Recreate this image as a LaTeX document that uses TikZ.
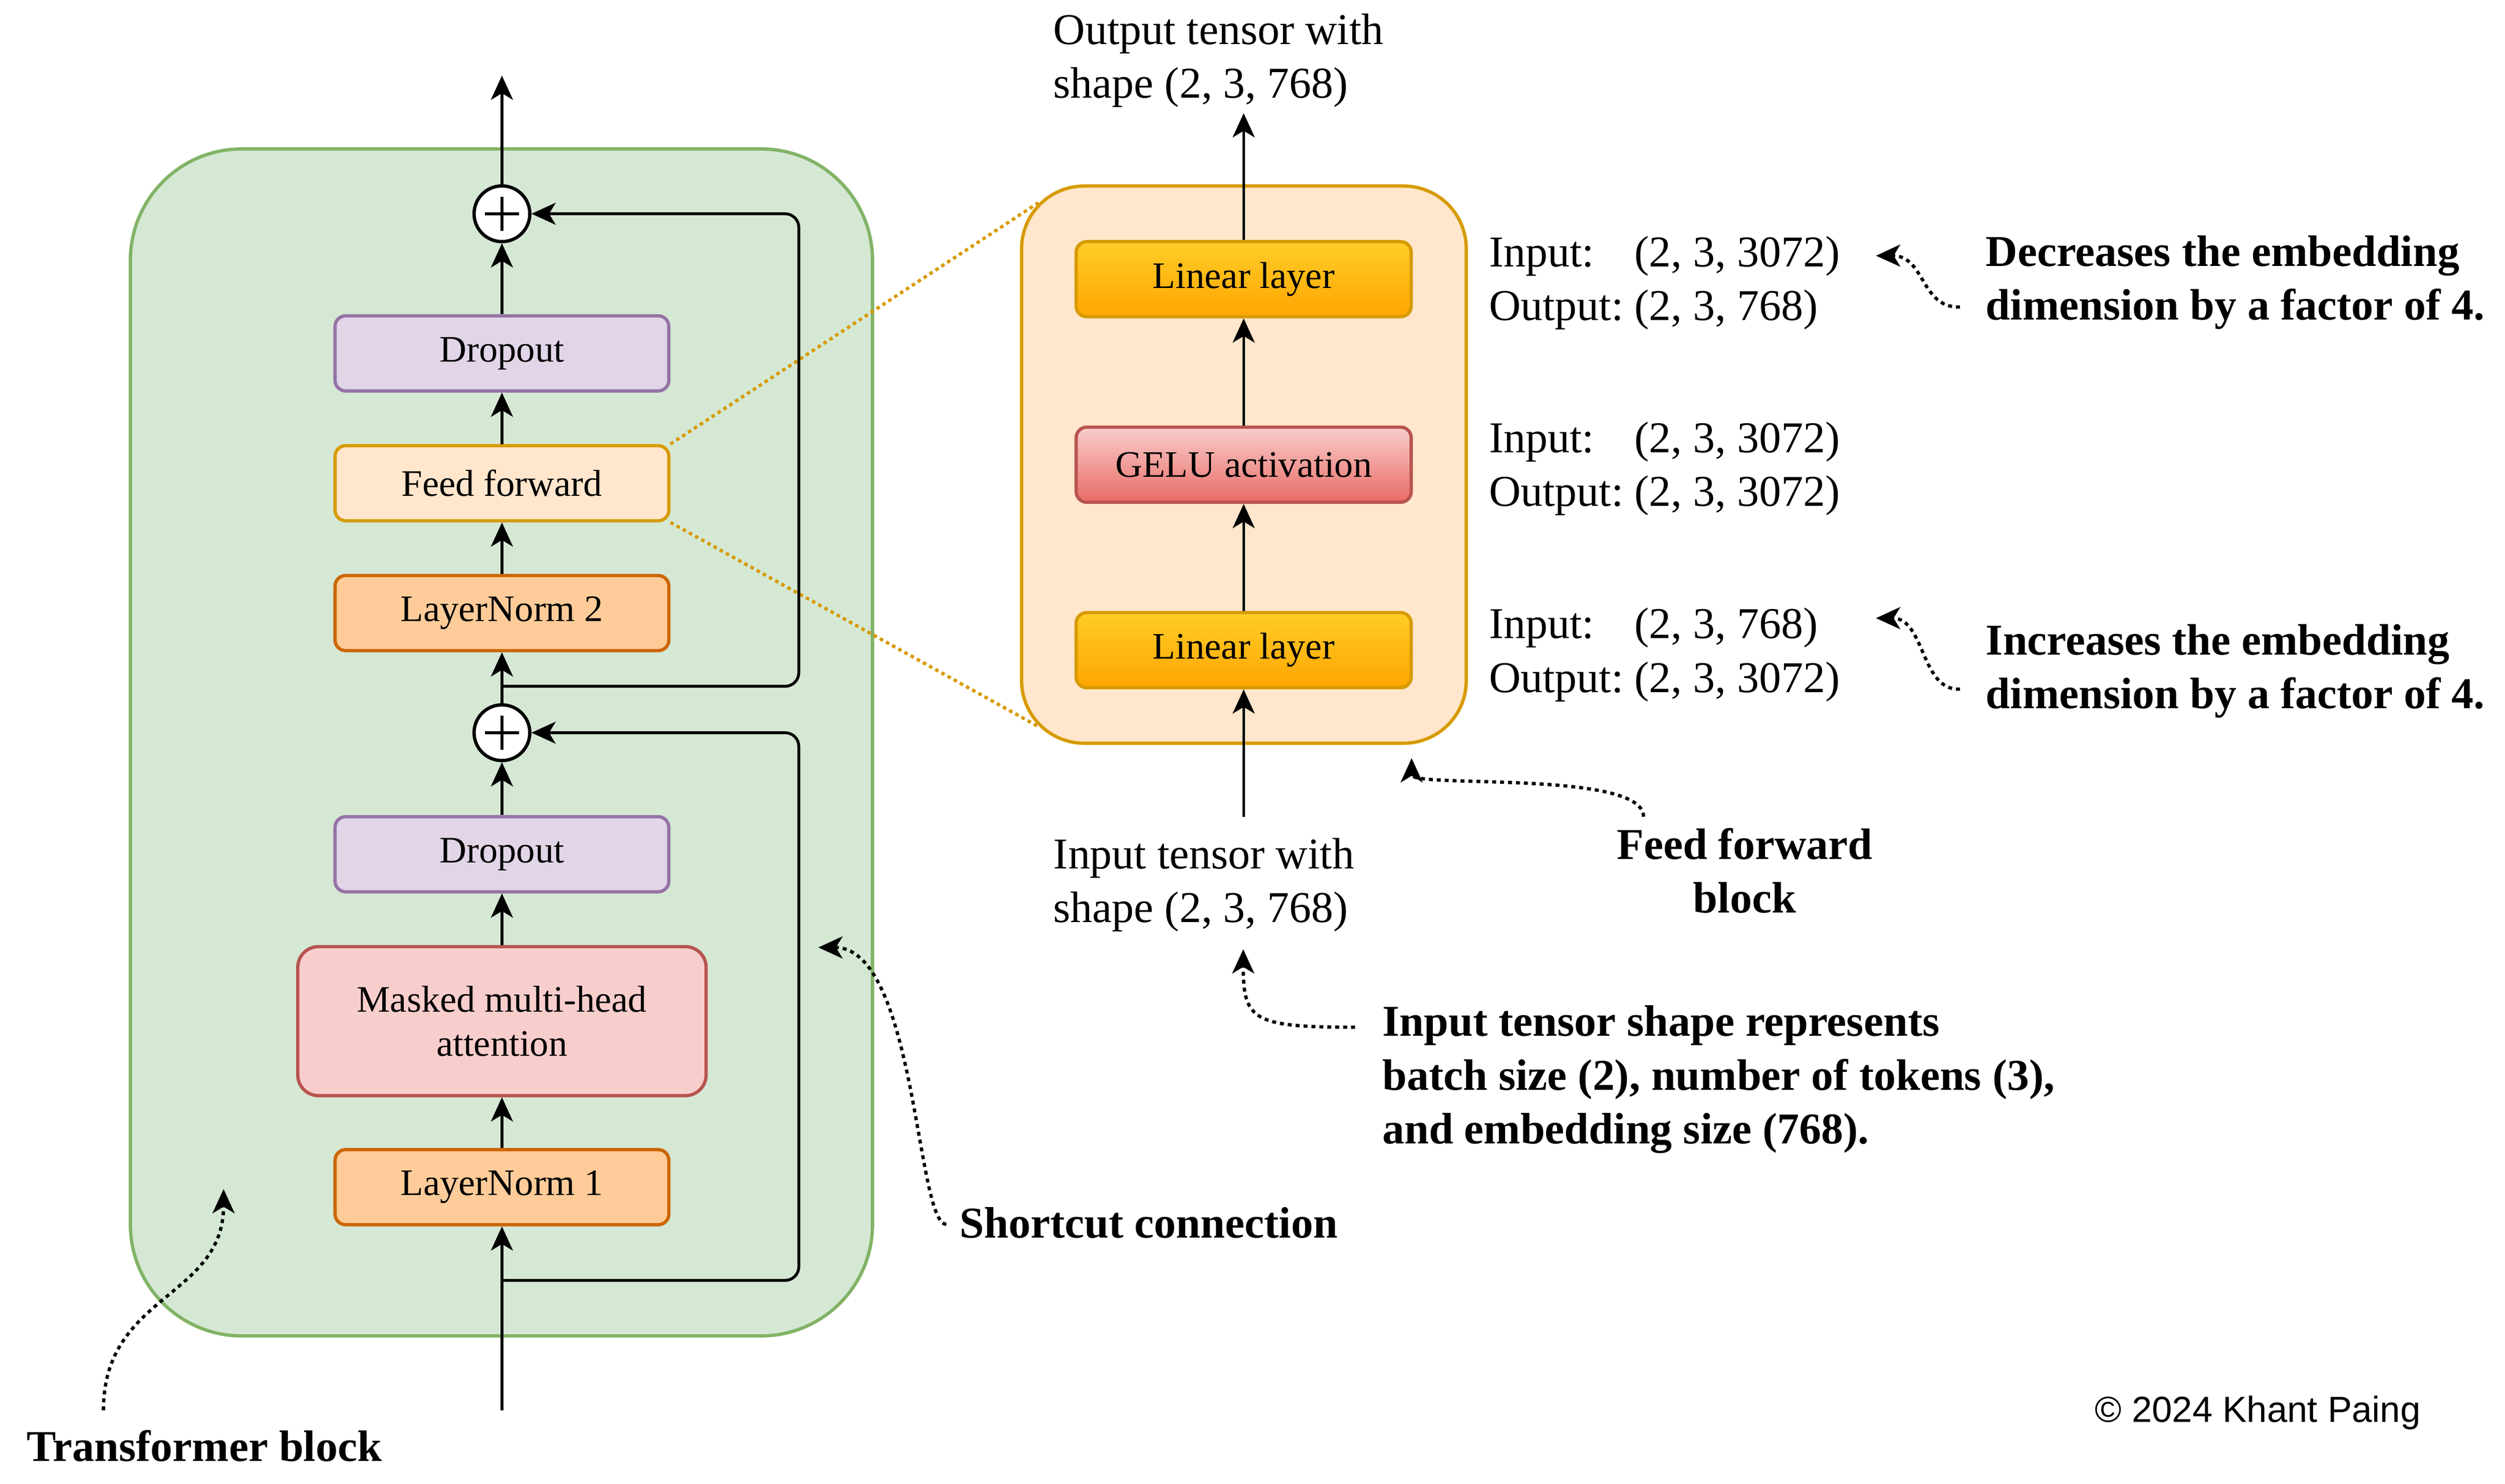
\documentclass[tikz,border=0pt]{standalone}
\usepackage{fontspec}
\setmainfont{Liberation Serif}
\newfontfamily\copyfont{Liberation Sans}
\usepackage{xcolor}
\usetikzlibrary{shapes,positioning,calc,arrows.meta}

\definecolor{tbfill}{HTML}{D5E8D4}
\definecolor{tbline}{HTML}{82B366}
\definecolor{dropfill}{HTML}{E1D5E7}
\definecolor{dropline}{HTML}{9673A6}
\definecolor{fffill}{HTML}{FFE6CC}
\definecolor{ffline}{HTML}{D79B00}
\definecolor{lnfill}{HTML}{FFCC99}
\definecolor{lnline}{HTML}{CC6600}
\definecolor{mhafill}{HTML}{F8CECC}
\definecolor{mhaline}{HTML}{B85450}
\definecolor{lintop}{HTML}{FFCD28}
\definecolor{linbot}{HTML}{FFA500}
\definecolor{gelutop}{HTML}{F8CECC}
\definecolor{gelubot}{HTML}{EA6B66}

\begin{document}
\begin{tikzpicture}[
    box/.style={draw, rounded corners=0.17cm, line width=1.5pt, minimum width=5.33cm, minimum height=1.2cm, align=center, font=\fontsize{17}{20}\selectfont},
    adder/.style={circle, draw, fill=white, line width=1.5pt, minimum size=0.89cm, inner sep=0pt,
        path picture={\draw[line width=1.3pt] ([xshift=-0.27cm]path picture bounding box.center) -- ([xshift=0.27cm]path picture bounding box.center)
            ([yshift=-0.27cm]path picture bounding box.center) -- ([yshift=0.27cm]path picture bounding box.center);}},
    lin/.style={box, draw=ffline, top color=lintop, bottom color=linbot, minimum width=5.35cm},
    arr/.style={-{Stealth[length=11pt,width=10pt,inset=3pt]}, line width=1.3pt},
    dotarr/.style={arr, dash pattern=on 1.8pt off 1.8pt, line width=1.5pt},
    zoomline/.style={draw=ffline, dash pattern=on 1.6pt off 1.6pt, line width=1.5pt},
    note/.style={align=left, inner sep=0pt, font=\fontsize{20}{24.4}\selectfont},
    bnote/.style={note, font=\fontsize{20}{24.4}\selectfont\bfseries}
]
\useasboundingbox (0,0) rectangle (40,23.7037);

% transformer block
\node[draw=tbline, fill=tbfill, line width=1.5pt, rounded corners=1.78cm, minimum width=11.85cm, minimum height=18.96cm] (tblock) at (8.007,11.845) {};
\node[adder] (add2) at (8.015,20.289) {};
\node[box, fill=dropfill, draw=dropline] (drop2) at (8.015,18.059) {Dropout};
\node[box, fill=fffill, draw=ffline] (ff) at (8.015,15.985) {Feed forward};
\node[box, fill=lnfill, draw=lnline] (ln2) at (8.015,13.911) {LayerNorm 2};
\node[adder] (add1) at (8.015,12.0) {};
\node[box, fill=dropfill, draw=dropline] (drop1) at (8.015,10.059) {Dropout};
\node[box, fill=mhafill, draw=mhaline, minimum width=6.52cm, minimum height=2.38cm, rounded corners=0.33cm] (mha) at (8.015,7.393) {Masked multi-head\\attention};
\node[box, fill=lnfill, draw=lnline] (ln1) at (8.015,4.741) {LayerNorm 1};

\coordinate (tbin) at (8.015,1.178);
\coordinate (tbout) at (8.015,22.496);
\coordinate (sc1) at (8.015,3.252);
\coordinate (sc2) at (8.015,12.741);
\coordinate (rail) at (12.756,0);

% feed forward block
\node[draw=ffline, fill=fffill, line width=1.5pt, rounded corners=1cm, minimum width=7.1cm, minimum height=8.9cm] (ffb) at (19.863,16.282) {};
\draw[zoomline] (ff.north east) -- ([shift={(0.293,-0.293)}]ffb.north west);
\draw[zoomline] (ff.south east) -- ([shift={(0.293,0.293)}]ffb.south west);
\node[lin] (lin2) at (19.859,19.244) {Linear layer};
\node[box, draw=mhaline, top color=gelutop, bottom color=gelubot, minimum width=5.35cm] (gelu) at (19.859,16.281) {GELU activation};
\node[lin] (lin1) at (19.859,13.319) {Linear layer};
\coordinate (ffin) at (19.859,10.659);
\coordinate (ffout) at (19.859,21.896);

% main path
\draw[arr] (tbin) -- (ln1);
\draw[arr] (ln1) -- (mha);
\draw[arr] (mha) -- (drop1);
\draw[arr] (drop1) -- (add1);
\draw[arr] (add1) -- (ln2);
\draw[arr] (ln2) -- (ff);
\draw[arr] (ff) -- (drop2);
\draw[arr] (drop2) -- (add2);
\draw[arr] (add2) -- (tbout);
\draw[arr, rounded corners=0.22cm] (sc1) -- (sc1 -| rail) |- (add1);
\draw[arr, rounded corners=0.22cm] (sc2) -- (sc2 -| rail) |- (add2);

\draw[arr] (ffin) -- (lin1);
\draw[arr] (lin1) -- (gelu);
\draw[arr] (gelu) -- (lin2);
\draw[arr] (lin2) -- (ffout);

% labels (base = last line)
\node[note, anchor=base west] (outtxt) at (16.815,22.141) {Output tensor with\\shape (2, 3, 768)};
\node[note, anchor=base west] (intxt) at (16.815,8.970) {Input tensor with\\shape (2, 3, 768)};
\node[note, anchor=base west] (lin2io) at (23.770,19.444) {\begin{tabular}[t]{@{}l@{\hspace{0.25em}}l@{}}Input: & (2, 3, 3072)\\Output: & (2, 3, 768)\end{tabular}};
\node[note, anchor=base west] (geluio) at (23.770,16.474) {\begin{tabular}[t]{@{}l@{\hspace{0.25em}}l@{}}Input: & (2, 3, 3072)\\Output: & (2, 3, 3072)\end{tabular}};
\node[note, anchor=base west] (lin1io) at (23.770,13.504) {\begin{tabular}[t]{@{}l@{\hspace{0.25em}}l@{}}Input: & (2, 3, 768)\\Output: & (2, 3, 3072)\end{tabular}};

\node[bnote, anchor=base west] (dectxt) at (31.704,18.593) {Decreases the embedding\\dimension by a factor of 4.};
\node[bnote, anchor=base west] (inctxt) at (31.704,12.385) {Increases the embedding\\dimension by a factor of 4.};
\node[bnote, anchor=base west] (shapetxt) at (22.067,5.437) {Input tensor shape represents\\batch size (2), number of tokens (3),\\and embedding size (768).};
\node[bnote, anchor=base, align=center] (fftxt) at (27.859,9.126) {Feed forward\\block};
\node[bnote, anchor=base west] (sctxt) at (15.319,3.933) {Shortcut connection};
\node[bnote, anchor=base west] (tbtxt) at (0.422,0.363) {Transformer block};
\node[anchor=base east, inner sep=0pt, font=\copyfont\fontsize{16.5}{20}\selectfont] (copy) at (38.659,0.985) {© 2024 Khant Paing};

% callout arrows
\coordinate (tbtail) at (1.652,1.178);
\coordinate (tbtip) at (3.570,4.711);
\coordinate (sctail) at (15.111,4.148);
\coordinate (sctip) at (13.067,8.570);
\coordinate (shtail) at (21.637,7.296);
\coordinate (shtip) at (19.852,8.541);
\coordinate (fftail) at (26.244,10.659);
\coordinate (fftip) at (22.541,11.593);
\coordinate (dectail) at (31.296,18.800);
\coordinate (dectip) at (29.956,19.619);
\coordinate (inctail) at (31.296,12.696);
\coordinate (inctip) at (29.956,13.830);

\draw[dotarr] (tbtail) .. controls (1.652,3.037) and (3.570,2.963) .. (tbtip);
\draw[dotarr] (sctail) .. controls (14.630,4.148) and (14.630,8.570) .. (sctip);
\draw[dotarr] (shtail) .. controls (20.0,7.296) and (19.852,7.407) .. (shtip);
\draw[dotarr] (fftail) .. controls (26.244,11.407) and (22.541,11.111) .. (fftip);
\draw[dotarr] (dectail) .. controls (30.667,18.778) and (30.741,19.622) .. (dectip);
\draw[dotarr] (inctail) .. controls (30.667,12.667) and (30.741,13.830) .. (inctip);
\end{tikzpicture}
\end{document}
